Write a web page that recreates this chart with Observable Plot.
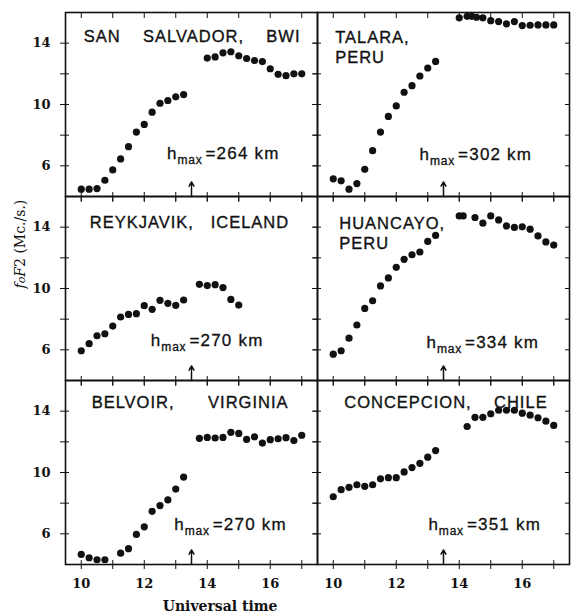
<!DOCTYPE html>
<html><head><meta charset="utf-8">
<script src="https://cdn.jsdelivr.net/npm/d3@7"></script>
<script src="https://cdn.jsdelivr.net/npm/@observablehq/plot@0.6"></script>
<style>body{margin:0;background:#fff}</style>
</head><body><div id="chart"></div>
<script>
// ---- data ----
const stations = ["SAN SALVADOR, BWI","TALARA, PERU","REYKJAVIK, ICELAND","HUANCAYO, PERU","BELVOIR, VIRGINIA","CONCEPCION, CHILE"];
const NB = "\u00a0";
const stationLabels = [
  "SAN"+NB.repeat(4)+"SALVADOR,"+NB.repeat(4)+"BWI",
  "TALARA,\nPERU",
  "REYKJAVIK,"+NB.repeat(3)+"ICELAND",
  "HUANCAYO,\nPERU",
  "BELVOIR,"+NB.repeat(6)+"VIRGINIA",
  "CONCEPCION,"+NB.repeat(4)+"CHILE"
];
const hmaxKm = [264, 302, 270, 334, 270, 351];
const panelColumn = [0, 1, 0, 1, 0, 1];
const panelRow = [0, 0, 1, 1, 2, 2];
const markerTime = 13.5;

const morning = [10,10.25,10.5,10.75,11,11.25,11.5,11.75,12,12.25,12.5,12.75,13,13.25];

const timeSanSalvador = morning.concat([14,14.25,14.5,14.75,15,15.25,15.5,15.75,16,16.25,16.5,16.75,17]);
const foF2SanSalvador = [4.48,4.48,4.52,5.06,5.73,6.45,7.25,8.2,8.7,9.5,10.08,10.26,10.5,10.65,
  13.03,13.1,13.37,13.44,13.18,13.0,12.87,12.8,12.33,11.97,11.88,12.0,12.0];

const timeTalara = morning.concat([14,14.25,14.4,14.55,14.75,15,15.25,15.5,15.75,16,16.25,16.5,16.75,17]);
const foF2Talara = [5.15,5.02,4.48,4.84,5.77,6.99,8.2,9.22,9.91,10.8,11.23,11.86,12.38,12.81,
  15.65,15.75,15.75,15.69,15.65,15.47,15.41,15.26,15.41,15.15,15.17,15.19,15.19,15.19];

const timeReykjavik = morning.concat([13.75,14,14.25,14.5,14.75,15]);
const foF2Reykjavik = [5.94,6.4,6.92,7.05,7.55,8.14,8.31,8.36,8.88,8.64,9.23,9.03,8.9,9.25,
  10.27,10.19,10.25,10.06,9.29,8.92];

const timeHuancayo = morning.concat([14,14.125,14.5,14.75,15,15.25,15.5,15.75,16,16.25,16.5,16.75,17]);
const foF2Huancayo = [5.72,5.94,6.76,7.62,8.7,9.2,10.17,10.69,11.38,11.9,12.2,12.38,13.07,13.46,
  14.73,14.73,14.63,14.26,14.73,14.47,14.08,13.98,14.02,13.87,13.43,13.04,12.83];

const timeBelvoir = [10,10.25,10.5,10.75,11.25,11.5,11.75,12,12.25,12.5,12.75,13,13.25,
  13.75,14,14.25,14.5,14.75,15,15.25,15.5,15.75,16,16.25,16.5,16.75,17];
const foF2Belvoir = [4.66,4.44,4.31,4.31,4.74,5.03,5.96,6.46,7.47,7.84,8.21,8.92,9.7,
  12.23,12.29,12.25,12.29,12.62,12.55,12.16,12.33,11.92,12.14,12.2,12.27,12.08,12.43];

const timeConcepcion = morning.concat([14.25,14.5,14.75,15,15.25,15.5,15.75,16,16.25,16.5,16.75,17]);
const foF2Concepcion = [8.42,8.88,9.03,9.2,9.1,9.2,9.59,9.66,9.66,10.04,10.32,10.6,11.0,11.43,
  13.0,13.6,13.6,13.83,14.06,14.06,14.06,13.87,13.74,13.57,13.35,13.07];

// annotation anchors in data units (hour, Mc/s)
const nameAt = [[10.08,15.02],[10.06,14.97],[10.27,14.91],[10.19,14.84],[10.33,15.17],[10.35,15.12]];
const hmaxAt = [[12.72,6.45],[12.74,6.38],[12.21,6.27],[12.96,6.14],[12.95,6.27],[13.02,6.27]];

const xTicks = [10,12,14,16];
const yTicks = [6,10,14];

// ---- build tables ----
const series = [
  [timeSanSalvador, foF2SanSalvador],[timeTalara, foF2Talara],[timeReykjavik, foF2Reykjavik],
  [timeHuancayo, foF2Huancayo],[timeBelvoir, foF2Belvoir],[timeConcepcion, foF2Concepcion]
];
const rows = [];
series.forEach(([ts, vs], i) => ts.forEach((t, j) => rows.push({station: stations[i], col: panelColumn[i], row: panelRow[i], t, v: vs[j]})));
const info = stations.map((name, i) => ({
  name, label: stationLabels[i], col: panelColumn[i], row: panelRow[i], hmax: hmaxKm[i],
  nx: nameAt[i][0], ny: nameAt[i][1], hx: hmaxAt[i][0], hy: hmaxAt[i][1], mark: markerTime
}));

const xDomain = [9.5, 17.5], yDomain = [4, 16];
const serif = "DejaVu Serif";
const ink = "#111";

const plot = Plot.plot({
  width: 571, height: 615,
  marginLeft: 65, marginRight: 2, marginTop: 11, marginBottom: 50,
  style: {fontFamily: "Liberation Sans", background: "#fff", color: ink},
  x: {domain: xDomain, label: null},
  y: {domain: yDomain, label: null},
  fx: {domain: [0, 1], padding: 0, axis: null, label: null},
  fy: {domain: [0, 1, 2], padding: 0, axis: null, label: null},
  marks: [
    Plot.axisX({anchor: "bottom", facetAnchor: null, ticks: d3.range(10, 18), tickSize: 9, dy: -4, fill: "none", label: null}),
    Plot.axisX({anchor: "top", facetAnchor: null, ticks: d3.range(10, 18), tickSize: 5, dy: 5, fill: "none", label: null}),
    Plot.axisY({anchor: "left", facetAnchor: null, ticks: [6,8,10,12,14], tickSize: 9, dx: 4, fill: "none", label: null}),
    Plot.axisY({anchor: "right", facetAnchor: null, ticks: [6,8,10,12,14], tickSize: 5, dx: -5, fill: "none", label: null}),
    Plot.axisX({anchor: "bottom", ticks: xTicks, tickSize: 0, tickPadding: 14, fontFamily: serif, fontWeight: "bold", fontSize: 13, label: null}),
    Plot.axisY({anchor: "left", ticks: yTicks, tickSize: 0, tickPadding: 15, fontFamily: serif, fontWeight: "bold", fontSize: 13, label: null}),
    Plot.frame({strokeWidth: 1.6}),
    Plot.dot(rows, {x: "t", y: "v", fx: "col", fy: "row", r: 3.6, fill: ink, stroke: null}),
    Plot.arrow(info, {x1: "mark", x2: "mark", y1: yDomain[0], y2: 4.95, fx: "col", fy: "row", headLength: 5, headAngle: 60, strokeWidth: 1.5}),
    Plot.text(info, {x: "nx", y: "ny", fx: "col", fy: "row", text: "label", textAnchor: "start", lineAnchor: "top", fontSize: 16.5, lineHeight: 1.22, fill: ink, stroke: ink, strokeWidth: 0.35}),
    Plot.text(info, {x: "hx", y: "hy", fx: "col", fy: "row", text: d => "h|" + d.hmax, textAnchor: "start", lineAnchor: "bottom", fontSize: 17, fill: ink, stroke: ink, strokeWidth: 0.3}),
    Plot.text([{col: 0, row: 1}], {fx: "col", fy: "row", frameAnchor: "left", dx: -45, rotate: -90, text: () => "YTITLE", fontFamily: serif, fontSize: 14, fill: ink}),
    Plot.text([{col: 0, row: 2}], {fx: "col", fy: "row", frameAnchor: "bottom-right", dx: -40, dy: 46, lineAnchor: "bottom", text: () => "Universal time", fontFamily: serif, fontWeight: "bold", fontSize: 14, fill: ink})
  ]
});

// rich text post-processing
const ns = "http://www.w3.org/2000/svg";
function ts(txt, attrs, style) {
  const e = document.createElementNS(ns, "tspan"); e.textContent = txt;
  for (const k in attrs) e.setAttribute(k, attrs[k]);
  if (style) Object.assign(e.style, style);
  return e;
}
plot.querySelectorAll("text").forEach(t => {
  const s = t.textContent;
  if (s.startsWith("h|")) {
    const km = s.slice(2);
    t.textContent = "";
    t.append(
      ts("h", {}),
      ts("max", {"font-size": 12, dy: 5, dx: 1}, {letterSpacing: "0.8px"}),
      ts("=" + km + " km", {dy: -5, dx: 3}, {letterSpacing: "1.2px"})
    );
  } else if (s === "YTITLE") {
    t.textContent = "";
    t.append(ts("f", {"font-style": "italic"}), ts("o", {"font-style": "italic", "font-size": 11}), ts("F", {"font-style": "italic"}), ts("2 (Mc./s.)", {}));
  } else if (/^[A-Z]{2}/.test(s)) {
    t.style.letterSpacing = "1px";
  }
});
document.getElementById("chart").append(plot);
</script>
</body></html>
